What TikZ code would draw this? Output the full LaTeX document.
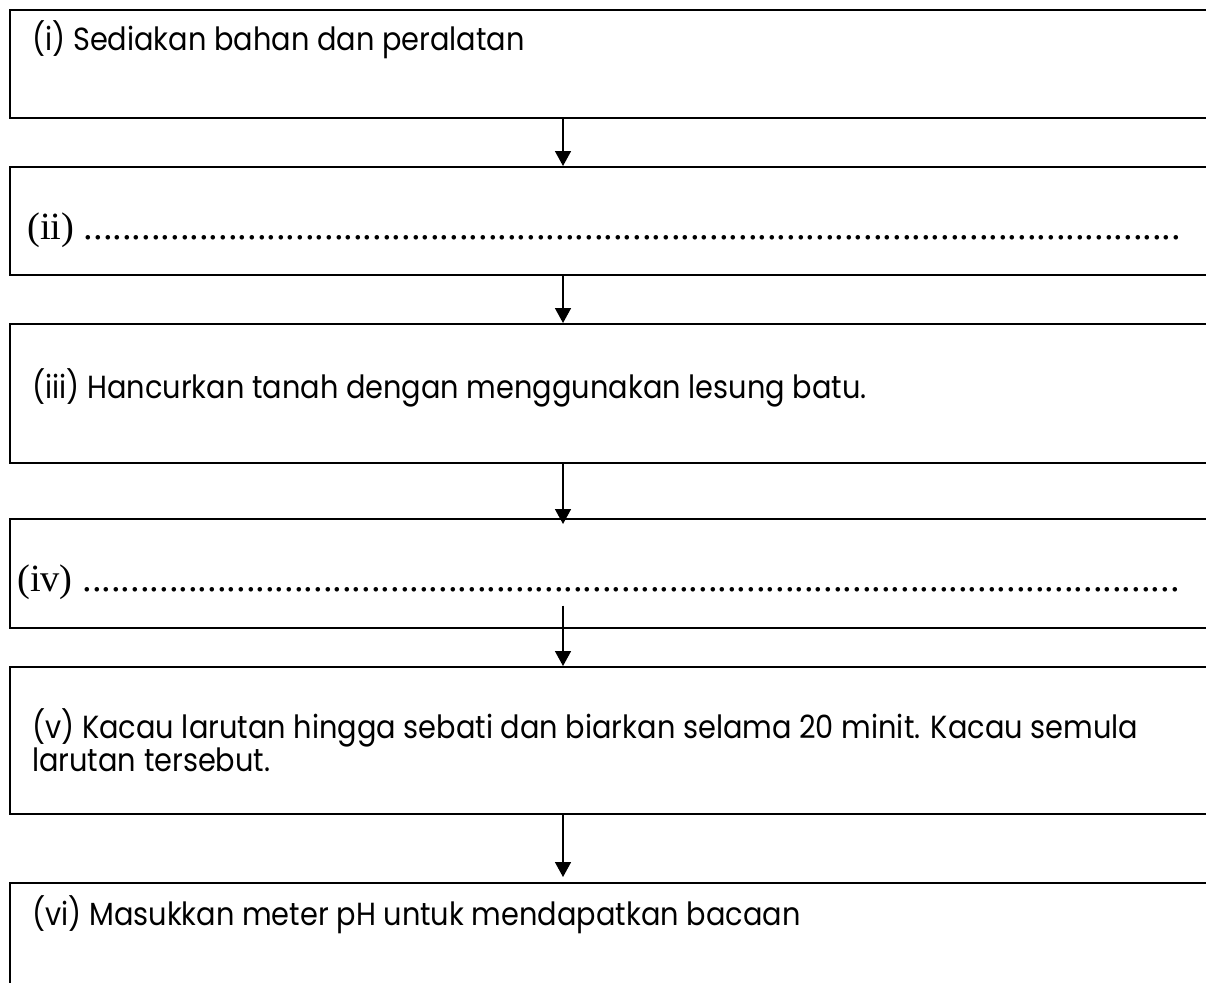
\documentclass[tikz,border=0pt]{standalone}
\usepackage{fontspec}
\setmainfont[FakeStretch=0.9]{Poppins}
\newfontfamily\serifface{Liberation Serif}
\usetikzlibrary{arrows.meta}
\ExplSyntaxOn
\NewDocumentCommand\dotrun{m}{\prg_replicate:nn{#1}{.}}
\ExplSyntaxOff
\begin{document}
\begin{tikzpicture}[x=1pt,y=-1pt,
  stepbox/.style={draw=black, line width=1.6pt, anchor=north west,
    minimum width=1206pt, inner sep=0pt},
  arr/.style={line width=1.6pt, -{Triangle[width=16pt,length=15pt]}},
  steptext/.style={anchor=base west, inner sep=0pt,
    font=\fontsize{32}{34}\selectfont},
  blanktext/.style={anchor=base west, inner sep=0pt,
    font=\serifface\fontsize{38.5}{40}\selectfont}]
\clip (0,0) rectangle (1206,982);

% step boxes (they run past the right edge of the page)
\node[stepbox, minimum height=108pt] (b1) at (9,9) {};
\node[stepbox, minimum height=108pt] (b2) at (9,166) {};
\node[stepbox, minimum height=139pt] (b3) at (9,323) {};
\node[stepbox, minimum height=109pt] (b4) at (9,518) {};
\node[stepbox, minimum height=147pt] (b5) at (9,666) {};
\node[stepbox, minimum height=130pt] (b6) at (9,882) {};

% step texts
\node[steptext] (t1) at (32,51) {(i) Sediakan bahan dan peralatan};
\node[blanktext] (t2) at (27,239) {(ii) \dotrun{114}};
\node[steptext] (t3) at (32,398) {(iii) Hancurkan tanah dengan menggunakan lesung batu.};
\node[blanktext] (t4) at (17,591) {(iv) \dotrun{114}};
\node[steptext] (t5a) at (32,738) {(v) Kacau larutan hingga sebati dan biarkan selama 20 minit. Kacau semula};
\node[steptext] (t5b) at (32,771) {larutan tersebut.};
\node[steptext] (t6) at (32,925) {(vi) Masukkan meter pH untuk mendapatkan bacaan};

% connectors
\coordinate (ax) at (563,0);
\draw[arr] (ax |- b1.south) -- (ax |- b2.north);
\draw[arr] (ax |- b2.south) -- (ax |- b3.north);
\draw[arr] (ax |- b3.south) -- ([yshift=-6pt]ax |- b4.north);
\draw[arr] ([yshift=23pt]ax |- b4.south) -- (ax |- b5.north);
\draw[arr] (ax |- b5.south) -- ([yshift=5pt]ax |- b6.north);
\end{tikzpicture}
\end{document}
